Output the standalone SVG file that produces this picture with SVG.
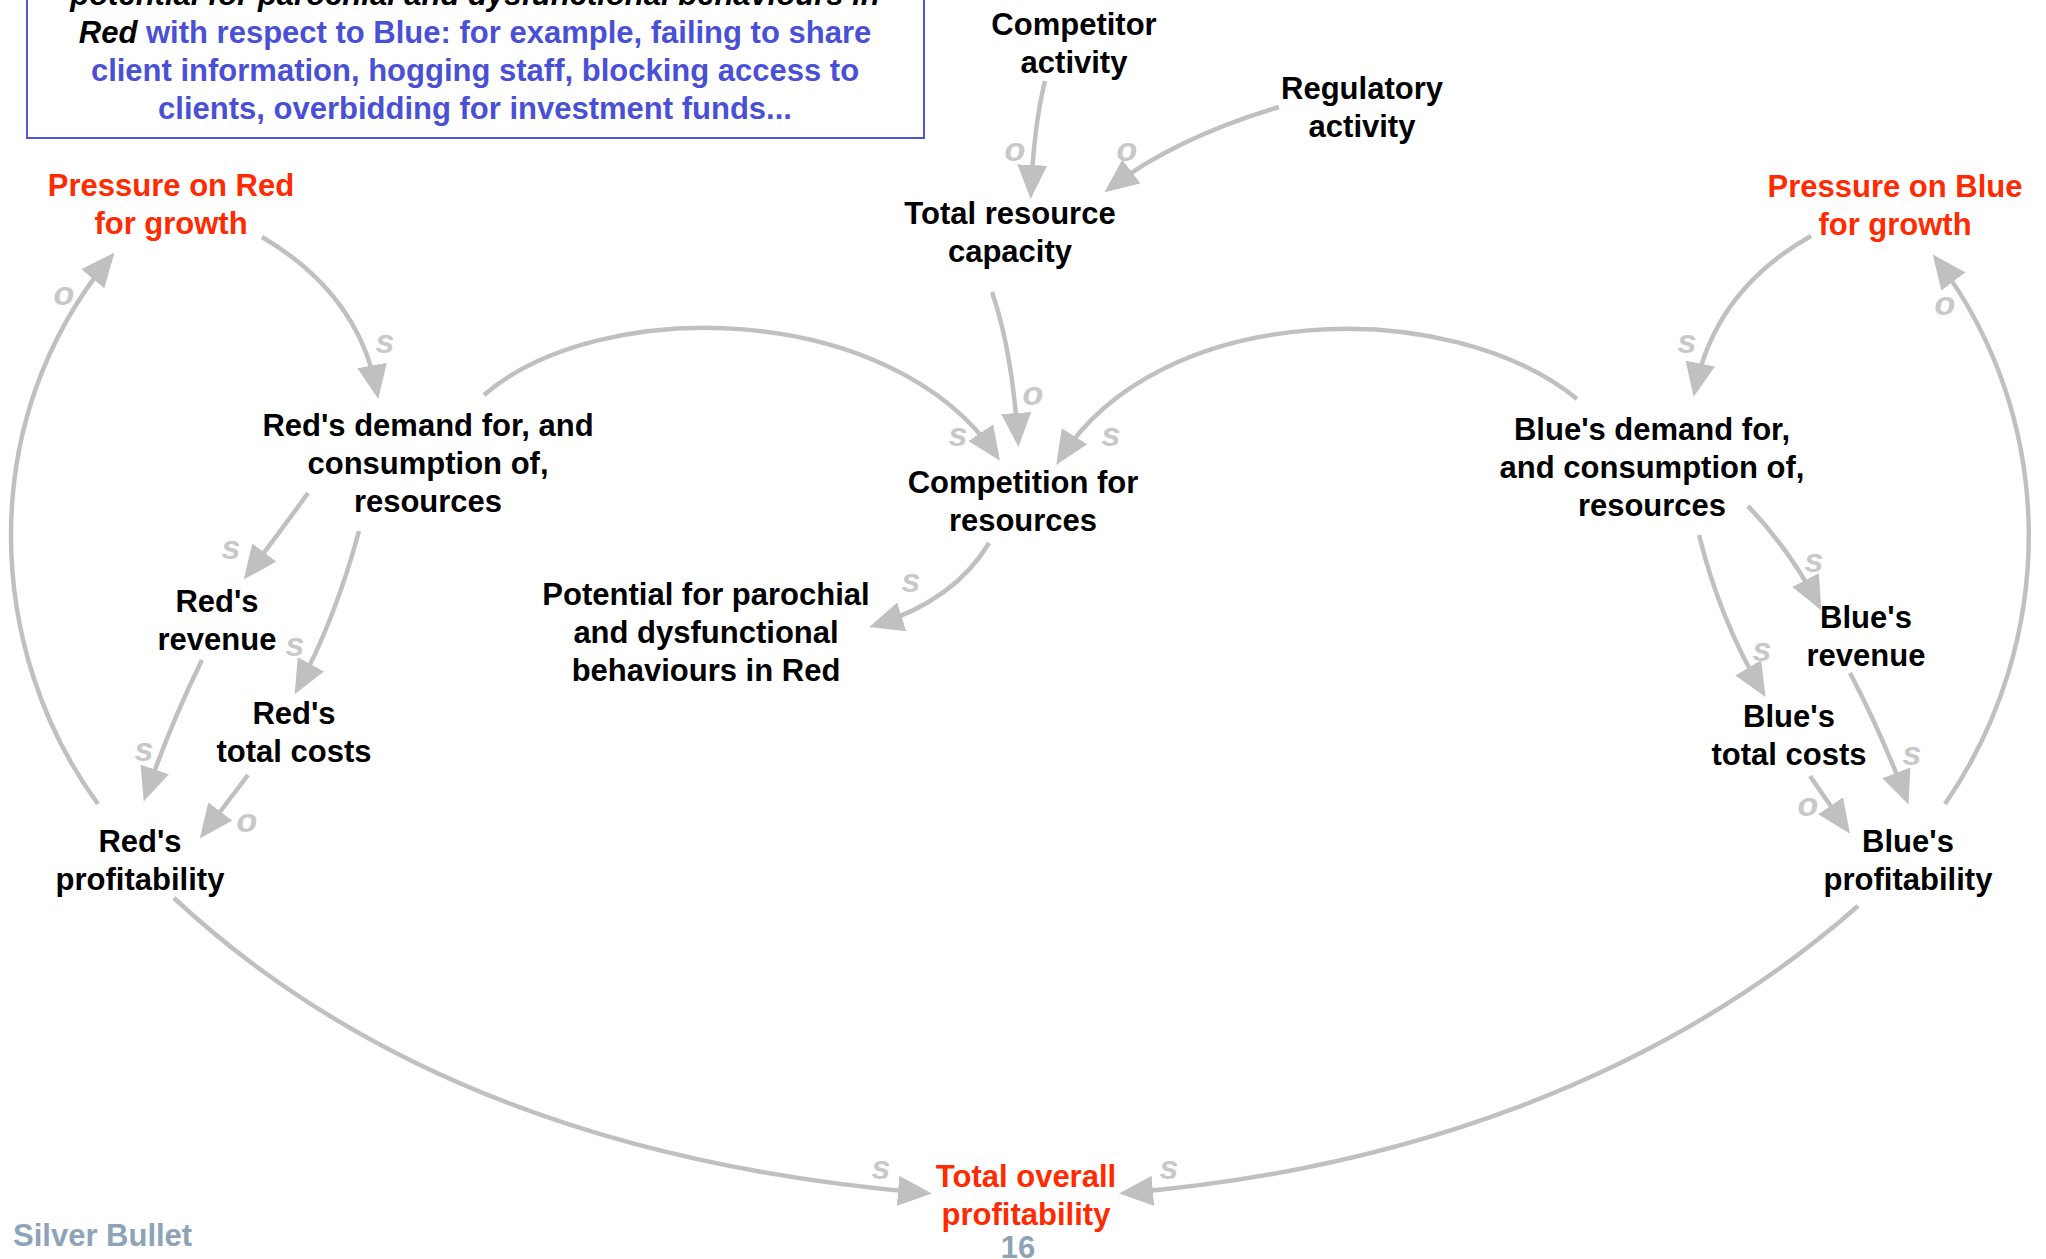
<svg xmlns="http://www.w3.org/2000/svg" width="2046" height="1259" viewBox="0 0 2046 1259">
  <style>
    text { font-family: "Liberation Sans", Arial, sans-serif; font-size: 31px; font-weight: bold; text-anchor: middle; }
    .node { fill: #000000; }
    .hot { fill: #ff2a00; }
    .note { fill: #4a50d6; }
    .em { fill: #000000; font-style: italic; }
    .pol { fill: #c8c8c8; font-style: italic; font-size: 34px; }
    .foot { fill: #8ea3b8; }
    .link { fill: none; stroke: #bfc0bf; stroke-width: 4.5; marker-end: url(#arr); }
  </style>
  <defs>
    <marker id="arr" viewBox="0 0 34 30" refX="27" refY="15" markerWidth="34" markerHeight="30" markerUnits="userSpaceOnUse" orient="auto">
      <path d="M0,0 L34,15 L0,30 Z" fill="#bfc0bf"/>
    </marker>
  </defs>
  <rect width="2046" height="1259" fill="#ffffff"/>

  <!-- explanatory note -->
  <g id="note">
    <rect x="27" y="-20" width="897" height="158" fill="none" stroke="#5257d8" stroke-width="2"/>
    <text x="475" y="5" class="em">potential for parochial and dysfunctional behaviours in</text>
    <text x="475" y="43" class="note"><tspan class="em">Red</tspan> with respect to Blue: for example, failing to share</text>
    <text x="475" y="81" class="note">client information, hogging staff, blocking access to</text>
    <text x="475" y="119" class="note">clients, overbidding for investment funds...</text>
  </g>

  <!-- connectors -->
  <g id="connectors">
    <path class="link" d="M1045,81 Q1034,125 1031,192"/>
    <path class="link" d="M1279,107 Q1175,138 1110,188"/>
    <path class="link" d="M992,292 Q1012,350 1018,440"/>
    <path class="link" d="M484,395 C600,295 890,300 996,455"/>
    <path class="link" d="M1577,399 C1450,295 1160,300 1060,459"/>
    <path class="link" d="M989,543 Q955,600 876,625"/>
    <path class="link" d="M262,237 Q359,294 377,392"/>
    <path class="link" d="M98,804 C-15,650 -25,420 110,258"/>
    <path class="link" d="M308,493 Q285,525 248,574"/>
    <path class="link" d="M359,531 Q335,620 298,688"/>
    <path class="link" d="M202,660 Q170,725 146,795"/>
    <path class="link" d="M248,775 L204,833"/>
    <path class="link" d="M174,898 C380,1090 650,1170 925,1193"/>
    <path class="link" d="M1858,906 C1660,1080 1400,1170 1126,1193"/>
    <path class="link" d="M1811,236 Q1715,290 1695,390"/>
    <path class="link" d="M1945,804 C2058,640 2058,420 1937,260"/>
    <path class="link" d="M1748,506 Q1790,550 1818,604"/>
    <path class="link" d="M1699,535 Q1720,620 1762,691"/>
    <path class="link" d="M1850,673 Q1880,730 1906,798"/>
    <path class="link" d="M1810,776 L1846,828"/>
  </g>

  <!-- link polarities -->
  <g id="polarities">
    <text class="pol" x="1015" y="161">o</text>
    <text class="pol" x="1127" y="161">o</text>
    <text class="pol" x="1033" y="405">o</text>
    <text class="pol" x="958" y="446">s</text>
    <text class="pol" x="1111" y="446">s</text>
    <text class="pol" x="911" y="592">s</text>
    <text class="pol" x="385" y="353">s</text>
    <text class="pol" x="64" y="305">o</text>
    <text class="pol" x="231" y="559">s</text>
    <text class="pol" x="295" y="656">s</text>
    <text class="pol" x="144" y="761">s</text>
    <text class="pol" x="247" y="832">o</text>
    <text class="pol" x="881" y="1179">s</text>
    <text class="pol" x="1169" y="1179">s</text>
    <text class="pol" x="1687" y="353">s</text>
    <text class="pol" x="1945" y="315">o</text>
    <text class="pol" x="1814" y="572">s</text>
    <text class="pol" x="1762" y="661">s</text>
    <text class="pol" x="1912" y="765">s</text>
    <text class="pol" x="1808" y="816">o</text>
  </g>

  <g id="competitor-activity" class="node">
    <text x="1074" y="35">Competitor</text>
    <text x="1074" y="73">activity</text>
  </g>
  <g id="regulatory-activity" class="node">
    <text x="1362" y="99">Regulatory</text>
    <text x="1362" y="137">activity</text>
  </g>
  <g id="total-resource-capacity" class="node">
    <text x="1010" y="224">Total resource</text>
    <text x="1010" y="262">capacity</text>
  </g>
  <g id="pressure-red">
    <text class="hot" x="171" y="196">Pressure on Red</text>
    <text class="hot" x="171" y="234">for growth</text>
  </g>
  <g id="pressure-blue">
    <text class="hot" x="1895" y="197">Pressure on Blue</text>
    <text class="hot" x="1895" y="235">for growth</text>
  </g>
  <g id="red-demand" class="node">
    <text x="428" y="436">Red's demand for, and</text>
    <text x="428" y="474">consumption of,</text>
    <text x="428" y="512">resources</text>
  </g>
  <g id="competition" class="node">
    <text x="1023" y="493">Competition for</text>
    <text x="1023" y="531">resources</text>
  </g>
  <g id="blue-demand" class="node">
    <text x="1652" y="440">Blue's demand for,</text>
    <text x="1652" y="478">and consumption of,</text>
    <text x="1652" y="516">resources</text>
  </g>
  <g id="potential-red" class="node">
    <text x="706" y="605">Potential for parochial</text>
    <text x="706" y="643">and dysfunctional</text>
    <text x="706" y="681">behaviours in Red</text>
  </g>
  <g id="red-revenue" class="node">
    <text x="217" y="612">Red's</text>
    <text x="217" y="650">revenue</text>
  </g>
  <g id="red-costs" class="node">
    <text x="294" y="724">Red's</text>
    <text x="294" y="762">total costs</text>
  </g>
  <g id="red-profitability" class="node">
    <text x="140" y="852">Red's</text>
    <text x="140" y="890">profitability</text>
  </g>
  <g id="blue-revenue" class="node">
    <text x="1866" y="628">Blue's</text>
    <text x="1866" y="666">revenue</text>
  </g>
  <g id="blue-costs" class="node">
    <text x="1789" y="727">Blue's</text>
    <text x="1789" y="765">total costs</text>
  </g>
  <g id="blue-profitability" class="node">
    <text x="1908" y="852">Blue's</text>
    <text x="1908" y="890">profitability</text>
  </g>
  <g id="total-profitability">
    <text class="hot" x="1026" y="1187">Total overall</text>
    <text class="hot" x="1026" y="1225">profitability</text>
  </g>

  <g id="footer">
    <text class="foot" x="13" y="1246" style="text-anchor:start">Silver Bullet</text>
    <text class="foot" x="1018" y="1258">16</text>
  </g>
</svg>
